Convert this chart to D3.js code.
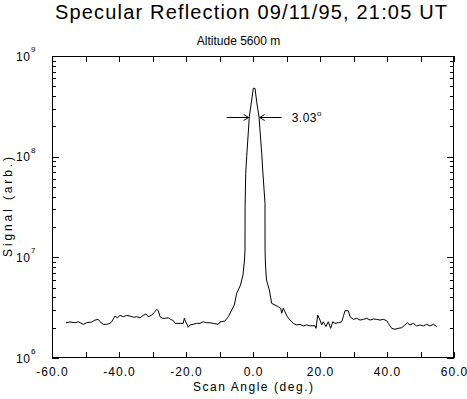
<!DOCTYPE html>
<html><head><meta charset="utf-8">
<script src="https://cdn.jsdelivr.net/npm/d3@7"></script>
<style>
html,body{margin:0;padding:0;background:#fff;}
svg text{font-family:"Liberation Sans",Arial,Helvetica,sans-serif;fill:#000;}
</style></head>
<body>
<svg id="chart" width="467" height="399"></svg>
<script>
// ---- data ----
const scanAngle = [-55.82,-54.63,-53.13,-52.15,-50.66,-49.64,-48.15,-47.16,-46.18,-45.67,-44.69,-43.67,-42.69,-42.18,-41.19,-40.51,-39.70,-38.72,-37.70,-36.72,-35.73,-34.72,-33.73,-32.75,-31.94,-31.25,-30.24,-29.55,-28.75,-28.27,-27.76,-26.96,-26.27,-25.28,-24.57,-23.79,-23.28,-21.79,-20.81,-20.51,-20.09,-19.61,-19.31,-18.81,-17.82,-16.81,-15.82,-14.84,-13.82,-12.84,-11.85,-10.36,-9.85,-8.36,-7.37,-6.36,-5.58,-4.87,-4.39,-3.73,-2.99,-2.54,-2.39,-2.36,-2.18,-1.88,-1.10,-0.39,0.09,0.60,1.10,1.79,2.60,2.90,3.58,3.60,3.73,4.03,4.87,5.58,6.57,7.55,8.27,8.57,9.04,9.55,10.24,11.04,12.03,13.04,14.03,15.01,16.03,17.01,18.51,18.81,19.31,20.00,20.51,20.99,21.79,22.48,23.19,23.79,24.48,25.46,26.48,26.96,27.46,28.45,28.96,29.94,30.96,31.94,32.93,33.94,34.93,35.91,36.93,37.91,38.90,39.91,40.39,41.40,42.39,43.37,44.39,45.37,46.06,46.87,47.85,48.87,49.85,50.84,51.85,52.84,53.82,54.84];
const signal = [2.24e6,2.28e6,2.24e6,2.29e6,2.16e6,2.24e6,2.28e6,2.38e6,2.42e6,2.29e6,2.16e6,2.16e6,2.21e6,2.29e6,2.61e6,2.51e6,2.65e6,2.57e6,2.65e6,2.61e6,2.54e6,2.57e6,2.51e6,2.65e6,2.74e6,2.57e6,2.67e6,2.82e6,3.04e6,2.95e6,2.57e6,2.48e6,2.48e6,2.51e6,2.42e6,2.35e6,2.21e6,2.21e6,2.21e6,2.48e6,2.29e6,2.13e6,2.02e6,2.13e6,2.16e6,2.21e6,2.21e6,2.29e6,2.24e6,2.24e6,2.21e6,2.16e6,2.28e6,2.33e6,2.57e6,3.00e6,3.36e6,4.39e6,4.74e6,5.31e6,6.67e6,9.40e6,1.18e7,3.18e7,6.83e7,9.98e7,2.49e8,3.65e8,4.77e8,4.77e8,3.51e8,2.49e8,1.08e8,7.36e7,3.44e7,1.18e7,8.38e6,5.95e6,4.74e6,3.49e6,3.36e6,3.23e6,3.12e6,2.78e6,3.12e6,2.88e6,2.57e6,2.38e6,2.21e6,2.13e6,2.16e6,2.08e6,2.13e6,2.09e6,2.09e6,1.97e6,2.67e6,2.38e6,2.13e6,2.29e6,2.05e6,2.29e6,1.97e6,2.29e6,2.21e6,2.24e6,2.29e6,2.57e6,2.95e6,2.95e6,2.57e6,2.42e6,2.48e6,2.38e6,2.42e6,2.48e6,2.38e6,2.44e6,2.42e6,2.38e6,2.42e6,2.35e6,2.21e6,1.97e6,1.93e6,1.97e6,2.00e6,2.13e6,2.24e6,2.13e6,2.21e6,2.08e6,2.13e6,2.08e6,2.16e6,2.08e6,2.16e6,2.05e6];
const xTickValues = [-60,-50,-40,-30,-20,-10,0,10,20,30,40,50,60];
const xTickLabels = ["-60.0","-40.0","-20.0","0.0","20.0","40.0","60.0"];
const xLabelValues = [-60,-40,-20,0,20,40,60];
const yDecades = [1e6,1e7,1e8,1e9];
const yExponents = ["6","7","8","9"];
const fwhmLeft = -1.3, fwhmRight = 2.0, fwhmLevel = 2.47e8;
const fwhmLabel = "3.03";
const titleText = "Specular Reflection 09/11/95, 21:05 UT";
const subtitleText = "Altitude 5600 m";
const xTitle = "Scan Angle (deg.)";
const yTitle = "Signal (arb.)";

// ---- layout ----
const L = 52, R = 454, T = 56, B = 358;
const svg = d3.select("#chart");
const x = d3.scaleLinear().domain([-60, 60]).range([L, R]);
const y = d3.scaleLog().domain([1e6, 1e9]).range([B, T]);

// minor log ticks
const yMinor = [];
yDecades.slice(0, 3).forEach(d => { for (let k = 2; k <= 9; k++) yMinor.push(d * k); });

// axes (inward ticks)
const noLab = () => "";
svg.append("g").attr("transform", `translate(0,${B})`)
  .call(d3.axisBottom(x).tickValues(xTickValues).tickSize(-6).tickFormat(noLab));
svg.append("g").attr("transform", `translate(0,${T})`)
  .call(d3.axisTop(x).tickValues(xTickValues).tickSize(-6).tickFormat(noLab));
svg.append("g").attr("transform", `translate(${L},0)`)
  .call(d3.axisLeft(y).tickValues(yDecades).tickSize(-7).tickFormat(noLab));
svg.append("g").attr("transform", `translate(${L},0)`)
  .call(d3.axisLeft(y).tickValues(yMinor).tickSize(-4).tickFormat(noLab));
svg.append("g").attr("transform", `translate(${R},0)`)
  .call(d3.axisRight(y).tickValues(yDecades).tickSize(-7).tickFormat(noLab));
svg.append("g").attr("transform", `translate(${R},0)`)
  .call(d3.axisRight(y).tickValues(yMinor).tickSize(-4).tickFormat(noLab));
svg.selectAll(".domain").remove();
svg.selectAll(".tick line").attr("stroke", "#000").attr("shape-rendering", "crispEdges");

// frame
svg.append("rect").attr("x", L + 0.5).attr("y", T + 0.5)
  .attr("width", R - L - 1).attr("height", B - T - 1)
  .attr("fill", "none").attr("stroke", "#000").attr("shape-rendering", "crispEdges");

// x labels
svg.selectAll(".xl").data(xLabelValues).enter().append("text")
  .attr("x", d => x(d) + 0.5).attr("y", 376).attr("text-anchor", "middle")
  .attr("font-size", 12).attr("letter-spacing", 1).text((d, i) => xTickLabels[i]);

// y labels
yDecades.forEach((d, i) => {
  svg.append("text").attr("x", 16).attr("y", y(d) + 4.5)
    .attr("font-size", 12).attr("textLength", 14).attr("lengthAdjust", "spacing").text("10");
  svg.append("text").attr("x", 31).attr("y", y(d) - 4)
    .attr("font-size", 8).text(yExponents[i]);
});

// titles
svg.append("text").attr("x", 251).attr("y", 19).attr("text-anchor", "middle")
  .attr("font-size", 20).attr("textLength", 392).attr("lengthAdjust", "spacing")
  .text(titleText);
svg.append("text").attr("x", 238.5).attr("y", 45).attr("text-anchor", "middle")
  .attr("font-size", 12).text(subtitleText);
svg.append("text").attr("x", 253).attr("y", 391).attr("text-anchor", "middle")
  .attr("font-size", 12).attr("textLength", 120).attr("lengthAdjust", "spacing").text(xTitle);
svg.append("text").attr("transform", `translate(12,${(T + B) / 2}) rotate(-90)`)
  .attr("text-anchor", "middle").attr("font-size", 12)
  .attr("textLength", 100).attr("lengthAdjust", "spacing").text(yTitle);

// curve
const pts = scanAngle.map((a, i) => [a, signal[i]]);
svg.append("path").datum(pts)
  .attr("d", d3.line().x(d => x(d[0])).y(d => y(d[1])))
  .attr("fill", "none").attr("stroke", "#000").attr("stroke-width", 1);

// FWHM annotation
const ay = Math.round(y(fwhmLevel)) + 0.5;
const lx = x(fwhmLeft), rx = x(fwhmRight);
const arrowLen = 22;
svg.append("path")
  .attr("d", `M${lx - arrowLen},${ay}H${lx}M${lx - 5},${ay - 3}L${lx},${ay}L${lx - 5},${ay + 3}`)
  .attr("fill", "none").attr("stroke", "#000");
svg.append("path")
  .attr("d", `M${rx + arrowLen},${ay}H${rx}M${rx + 5},${ay - 3}L${rx},${ay}L${rx + 5},${ay + 3}`)
  .attr("fill", "none").attr("stroke", "#000");
const lab = svg.append("text").attr("x", rx + 32).attr("y", ay + 4.5).attr("font-size", 12)
  .attr("letter-spacing", 0.5);
lab.append("tspan").text(fwhmLabel);
lab.append("tspan").attr("dy", -6).attr("font-size", 8).text("o");
</script>
</body></html>
